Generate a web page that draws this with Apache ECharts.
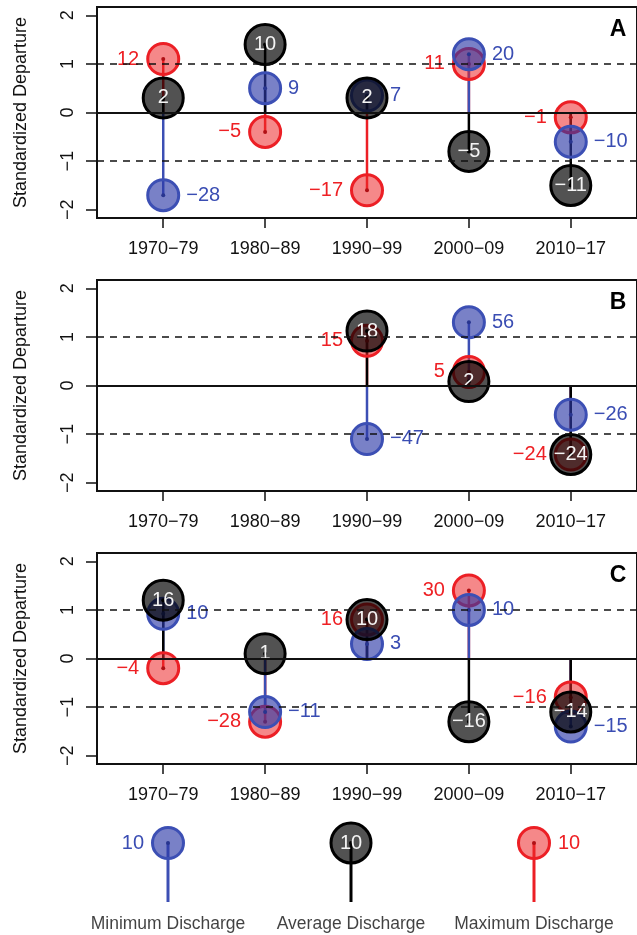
<!DOCTYPE html>
<html><head><meta charset="utf-8">
<script src="https://cdn.jsdelivr.net/npm/echarts@6/dist/echarts.min.js"></script>
<style>html,body{margin:0;padding:0;background:#fff}#c{width:637px;height:935px}</style>
</head><body><div id="c"></div>
<script>
// ---- data ----
const categories = ['1970\u221279','1980\u221289','1990\u221299','2000\u221209','2010\u221217'];
const panelNames = ['A','B','C'];
const yTicks = [-2,-1,0,1,2];

// Panel A (standardized departure, and % label)
const minA = [-1.7, 0.5, 0.35, 1.2, -0.6];
const minALab = [-28, 9, 7, 20, -10];
const avgA = [0.3, 1.4, 0.3, -0.8, -1.5];
const avgALab = [2, 10, 2, -5, -11];
const maxA = [1.1, -0.4, -1.6, 1.0, -0.1];
const maxALab = [12, -5, -17, 11, -1];

// Panel B
const minB = [null, null, -1.1, 1.3, -0.6];
const minBLab = [null, null, -47, 56, -26];
const avgB = [null, null, 1.12, 0.08, -1.42];
const avgBLab = [null, null, 18, 2, -24];
const maxB = [null, null, 0.92, 0.28, -1.42];
const maxBLab = [null, null, 15, 5, -24];

// Panel C
const minC = [0.92, -1.1, 0.3, 1.0, -1.4];
const minCLab = [10, -11, 3, 10, -15];
const avgC = [1.2, 0.1, 0.8, -1.3, -1.1];
const avgCLab = [16, 1, 10, -16, -14];
const maxC = [-0.2, -1.3, 0.8, 1.4, -0.8];
const maxCLab = [-4, -28, 16, 30, -16];

const legendNames = ['Minimum Discharge','Average Discharge','Maximum Discharge'];
const legendLabels = [10, 10, 10];

// ---- styling ----
const FONT = '"Liberation Sans", Arial, sans-serif';
const C = {
  min: {fill:'rgba(45,58,168,0.64)', stroke:'#3c4fb4', text:'#3a4db3', dot:'#28358f'},
  max: {fill:'rgba(236,38,40,0.55)', stroke:'#ec1f25', text:'#ee2024', dot:'#b01015'},
  avg: {fill:'rgba(0,0,0,0.68)', stroke:'#000000', text:'#f4f4f4', dot:'#000000'}
};
const fmt = v => (v < 0 ? '\u2212' + Math.abs(v) : String(v));

const panels = [
  {min:minA, minL:minALab, avg:avgA, avgL:avgALab, max:maxA, maxL:maxALab},
  {min:minB, minL:minBLab, avg:avgB, avgL:avgBLab, max:maxB, maxL:maxBLab},
  {min:minC, minL:minCLab, avg:avgC, avgL:avgCLab, max:maxC, maxL:maxCLab}
];
const tops = [7, 280, 553];
const GH = 211, GL = 97, GW = 542;

function pts(vals, labs){
  return vals.map((v,i) => v == null ? null : [i+1, v, labs[i]]).filter(Boolean);
}
function stem(gi, data, color, width, base){
  return {
    type:'custom', xAxisIndex:gi, yAxisIndex:gi, silent:true,
    data: data.map(d => [d[0], d[1]]),
    encode:{x:0, y:1},
    renderItem:(params, api) => {
      const x = api.value(0), y = api.value(1);
      const p0 = api.coord([x, base]), p1 = api.coord([x, y]);
      return {type:'line', shape:{x1:p0[0], y1:p0[1], x2:p1[0], y2:p1[1]},
              style:{stroke:color, lineWidth:width}};
    }
  };
}
function circles(gi, data, col, size, pos, dist, fs){
  return {
    type:'scatter', xAxisIndex:gi, yAxisIndex:gi, silent:true,
    data, symbol:'circle', symbolSize:size,
    itemStyle:{color:col.fill, borderColor:col.stroke, borderWidth:3, opacity:1},
    label:{show:true, position:pos, distance:dist, formatter:p => fmt(p.data[2]),
           color:col.text, fontSize:fs, fontFamily:FONT},
    emphasis:{disabled:true}
  };
}
function dots(gi, data, col){
  return {
    type:'scatter', xAxisIndex:gi, yAxisIndex:gi, silent:true,
    data: data.map(d => [d[0], d[1]]), symbolSize:4,
    itemStyle:{color:col.dot, opacity:1}, emphasis:{disabled:true}
  };
}

const grid = [], xAxis = [], yAxis = [], series = [], graphic = [];
panels.forEach((P, gi) => {
  grid.push({left:GL, top:tops[gi], width:GW, height:GH, show:true,
             borderColor:'#111', borderWidth:2, backgroundColor:'rgba(0,0,0,0)'});
  xAxis.push({gridIndex:gi, type:'value', min:0.35, max:5.65, position:'bottom',
    axisLine:{show:false, onZero:false}, splitLine:{show:false},
    axisTick:{show:true, customValues:[1,2,3,4,5], length:10, lineStyle:{color:'#111', width:1.5}},
    axisLabel:{show:true, customValues:[1,2,3,4,5], formatter:v => categories[Math.round(v)-1],
               fontSize:18, fontFamily:FONT, color:'#111', margin:22}});
  yAxis.push({gridIndex:gi, type:'value', min:-2.17, max:2.17, position:'left',
    axisLine:{show:false, onZero:false}, splitLine:{show:false},
    axisTick:{show:true, customValues:yTicks, length:11, lineStyle:{color:'#111', width:1.5}},
    axisLabel:{show:true, customValues:yTicks, formatter:v => fmt(v), rotate:90,
               fontSize:18, fontFamily:FONT, color:'#111', margin:20},
    name:'Standardized Departure', nameLocation:'middle', nameGap:67,
    nameTextStyle:{fontSize:18, fontFamily:FONT, color:'#111'}});

  const dMin = pts(P.min, P.minL), dAvg = pts(P.avg, P.avgL), dMax = pts(P.max, P.maxL);
  series.push(stem(gi, dMax, C.max.stroke, 2.5, 0));
  series.push(stem(gi, dMin, C.min.stroke, 2.5, 0));
  series.push(stem(gi, dAvg, '#000', 2.5, 0));
  series.push(circles(gi, dMax, C.max, 31, 'left', 7, 20));
  series.push(dots(gi, dMax, C.max));
  series.push(circles(gi, dMin, C.min, 31, 'right', 6, 20));
  series.push(dots(gi, dMin, C.min));
  series.push(circles(gi, dAvg, C.avg, 40, 'inside', 0, 20));
  series.push(dots(gi, dAvg, C.avg));
  // reference lines on top
  series.push({type:'scatter', xAxisIndex:gi, yAxisIndex:gi, silent:true,
    data:[[1,0]], symbolSize:0, itemStyle:{color:'rgba(0,0,0,0)'},
    markLine:{silent:true, symbol:'none', label:{show:false}, animation:false,
      data:[
        {yAxis:0, lineStyle:{color:'#111', width:1.8, type:'solid'}},
        {yAxis:1, lineStyle:{color:'#111', width:1.6, type:[7,6]}},
        {yAxis:-1, lineStyle:{color:'#111', width:1.6, type:[7,6]}}
      ]}});
  graphic.push({type:'text', x:618, y:tops[gi]+23,
    style:{text:panelNames[gi], font:'bold 23px ' + FONT, fill:'#000', align:'center', verticalAlign:'middle'}});
});

// ---- legend panel (its own grid) ----
const LG = 3;
grid.push({left:168, top:843, width:366, height:59, show:false});
xAxis.push({gridIndex:LG, type:'value', min:0, max:2, show:false});
yAxis.push({gridIndex:LG, type:'value', min:0, max:1, show:false});
const legKeys = ['min','avg','max'];
const legPos = ['left','inside','right'];
legKeys.forEach((k, i) => {
  series.push(stem(LG, [[i, 1]], k === 'avg' ? '#000' : C[k].stroke, 3, 0));
});
legKeys.forEach((k, i) => {
  const d = [[i, 1, legendLabels[i]]];
  series.push(circles(LG, d, C[k], k === 'avg' ? 40 : 31, legPos[i], 7, 20));
  series.push(dots(LG, d, C[k]));
});
series.push({type:'scatter', xAxisIndex:LG, yAxisIndex:LG, silent:true,
  data: legendNames.map((n, i) => [i, 0, n]), symbolSize:1,
  itemStyle:{color:'rgba(0,0,0,0)'},
  label:{show:true, position:'bottom', distance:13, formatter:p => p.data[2],
         fontSize:17.5, fontFamily:FONT, color:'#111'}});

const chart = echarts.init(document.getElementById('c'), null, {renderer:'canvas'});
chart.setOption({animation:false, backgroundColor:'#fff', grid, xAxis, yAxis, series, graphic});
</script></body></html>
